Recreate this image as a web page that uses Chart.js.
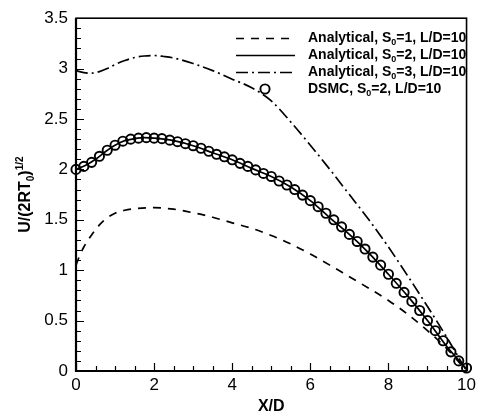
<!DOCTYPE html>
<html>
<head>
<meta charset="utf-8">
<script src="https://cdn.jsdelivr.net/npm/chart.js@4.4.1/dist/chart.umd.min.js"></script>
<style>
  html, body { margin: 0; padding: 0; background: #fff; }
  #wrap { width: 480px; height: 420px; }
</style>
</head>
<body>
<div id="wrap"><canvas id="plot" width="480" height="420"></canvas></div>
<script>
const FONT = '"Liberation Sans", Arial, Helvetica, sans-serif';

// Analytical profiles, S0 = 1, 2, 3 (L/D = 10)
const xS1 = [0, 0.1, 0.2, 0.4, 0.6, 0.8, 1, 1.25, 1.5, 2, 2.5, 3, 3.5, 4, 4.5, 5, 5.5, 6, 6.5, 7, 7.5, 8, 8.5, 9, 9.5, 10];
const uS1 = [1.05, 1.15, 1.23, 1.35, 1.45, 1.52, 1.565, 1.595, 1.61, 1.62, 1.605, 1.57, 1.525, 1.47, 1.415, 1.345, 1.26, 1.16, 1.05, 0.935, 0.82, 0.70, 0.56, 0.40, 0.22, 0.0];

const xS2 = [0, 0.25, 0.5, 0.75, 1, 1.25, 1.5, 1.75, 2, 2.5, 3, 3.5, 4, 4.5, 5, 5.5, 6, 6.5, 7, 7.5, 8, 8.5, 9, 9.5, 10];
const uS2 = [2.0, 2.04, 2.1, 2.175, 2.24, 2.285, 2.305, 2.315, 2.31, 2.285, 2.235, 2.165, 2.095, 2.01, 1.93, 1.825, 1.69, 1.52, 1.355, 1.17, 0.96, 0.74, 0.50, 0.24, 0.02];

const xS3 = [0, 0.2, 0.4, 0.6, 0.8, 1, 1.25, 1.5, 1.75, 2, 2.25, 2.5, 3, 3.5, 4, 4.5, 5, 5.5, 6, 6.5, 7, 7.5, 8, 8.5, 9, 9.5, 10];
const uS3 = [2.98, 2.96, 2.955, 2.97, 3.0, 3.04, 3.08, 3.11, 3.125, 3.13, 3.12, 3.105, 3.05, 2.98, 2.895, 2.81, 2.68, 2.47, 2.24, 2.0, 1.75, 1.5, 1.23, 0.94, 0.64, 0.33, 0.0];

// DSMC, S0 = 2
const xDsmc = [0, 0.2, 0.4, 0.6, 0.8, 1, 1.2, 1.4, 1.6, 1.8, 2, 2.2, 2.4, 2.6, 2.8, 3, 3.2, 3.4, 3.6, 3.8, 4, 4.2, 4.4, 4.6, 4.8, 5, 5.2, 5.4, 5.6, 5.8, 6, 6.2, 6.4, 6.6, 6.8, 7, 7.2, 7.4, 7.6, 7.8, 8, 8.2, 8.4, 8.6, 8.8, 9, 9.2, 9.4, 9.6, 9.8, 10];
const uDsmc = [2.0, 2.03, 2.07, 2.13, 2.19, 2.24, 2.28, 2.3, 2.31, 2.315, 2.31, 2.305, 2.29, 2.275, 2.255, 2.235, 2.21, 2.18, 2.15, 2.125, 2.095, 2.06, 2.03, 1.995, 1.96, 1.93, 1.885, 1.845, 1.8, 1.745, 1.69, 1.63, 1.565, 1.5, 1.43, 1.355, 1.285, 1.21, 1.13, 1.05, 0.96, 0.87, 0.78, 0.69, 0.6, 0.5, 0.4, 0.3, 0.19, 0.1, 0.03];

const xTickVals = [0, 2, 4, 6, 8, 10];
const xTickLabels = ['0', '2', '4', '6', '8', '10'];
const yTickVals = [0, 0.5, 1, 1.5, 2, 2.5, 3, 3.5];
const yTickLabels = ['0', '0.5', '1', '1.5', '2', '2.5', '3', '3.5'];

// legend rows: text before subscript, subscript, text after
const legendText = [
  ['Analytical, S', '0', '=1, L/D=10'],
  ['Analytical, S', '0', '=2, L/D=10'],
  ['Analytical, S', '0', '=3, L/D=10'],
  ['DSMC, S', '0', '=2, L/D=10']
];

const DASH = [8, 7];
const DASHDOT = [12, 4, 2, 4];
const LINE_W = 1.7;

const pts = (xs, ys) => xs.map((x, i) => ({ x: x, y: ys[i] }));

// draws a run of text pieces, some of them sub/superscript
function drawRich(ctx, parts, x, y, size, measureOnly) {
  let cx = x;
  parts.forEach(p => {
    const small = p.sub || p.sup;
    const s = small ? Math.round(size * 0.62) : size;
    ctx.font = 'bold ' + s + 'px ' + FONT;
    const dy = p.sub ? size * 0.3 : p.sup ? -size * 0.38 : 0;
    if (!measureOnly) ctx.fillText(p.t, cx, y + dy);
    cx += ctx.measureText(p.t).width;
  });
  return cx - x;
}

const frameTicks = {
  id: 'frameTicks',
  beforeDatasetsDraw(chart) {
    const { ctx, chartArea: a, scales: { x, y } } = chart;
    ctx.save();
    ctx.strokeStyle = '#000';
    ctx.lineWidth = 1.6;
    ctx.strokeRect(a.left, a.top, a.right - a.left, a.bottom - a.top);
    ctx.lineWidth = 2.2;
    ctx.beginPath();
    ctx.moveTo(a.left, a.top);
    ctx.lineTo(a.left, a.bottom);
    ctx.lineTo(a.right, a.bottom);
    ctx.stroke();

    ctx.lineWidth = 1.2;
    ctx.beginPath();
    for (let v = 0; v <= 10.001; v += 0.5) {
      const px = Math.round(x.getPixelForValue(v)) + 0.5;
      const len = Math.abs(v % 2) < 1e-6 ? 8 : 5;
      ctx.moveTo(px, a.bottom);
      ctx.lineTo(px, a.bottom - len);
    }
    for (let i = 0; i <= 35; i++) {
      const v = i / 10;
      const py = Math.round(y.getPixelForValue(v)) + 0.5;
      const len = i % 5 === 0 ? 8 : 5;
      ctx.moveTo(a.left, py);
      ctx.lineTo(a.left + len, py);
    }
    ctx.stroke();
    ctx.restore();
  },
  afterDraw(chart) {
    const ctx = chart.ctx;
    const a = chart.chartArea;
    ctx.save();
    ctx.fillStyle = '#000';
    ctx.strokeStyle = '#000';
    ctx.textBaseline = 'middle';

    // y axis title, rotated
    const yTitle = [{ t: 'U/(2RT' }, { t: '0', sub: true }, { t: ')' }, { t: '1/2', sup: true }];
    ctx.translate(26, (a.top + a.bottom) / 2);
    ctx.rotate(-Math.PI / 2);
    const w = drawRich(ctx, yTitle, 0, 0, 16, true);
    drawRich(ctx, yTitle, -w / 2, 0, 16);
    ctx.setTransform(1, 0, 0, 1, 0, 0);

    // legend
    const rowY = [38, 55, 72, 89];
    const styles = [DASH, [], DASHDOT, null];
    rowY.forEach((ry, i) => {
      if (styles[i]) {
        ctx.lineWidth = LINE_W;
        ctx.setLineDash(styles[i]);
        ctx.beginPath();
        ctx.moveTo(236, ry + 0.5);
        ctx.lineTo(295, ry + 0.5);
        ctx.stroke();
        ctx.setLineDash([]);
      } else {
        ctx.lineWidth = 1.9;
        ctx.beginPath();
        ctx.arc(265, ry, 4.6, 0, Math.PI * 2);
        ctx.stroke();
      }
      const t = legendText[i];
      drawRich(ctx, [{ t: t[0] }, { t: t[1], sub: true }, { t: t[2] }], 308, ry, 14);
    });
    ctx.restore();
  }
};

const tickFont = { family: FONT, size: 17 };

new Chart(document.getElementById('plot'), {
  type: 'scatter',
  data: {
    datasets: [
      {
        label: 'Analytical, S0=1, L/D=10',
        data: pts(xS1, uS1),
        showLine: true, pointRadius: 0, borderColor: '#000', borderWidth: LINE_W,
        borderDash: DASH, cubicInterpolationMode: 'monotone'
      },
      {
        label: 'Analytical, S0=2, L/D=10',
        data: pts(xS2, uS2),
        showLine: true, pointRadius: 0, borderColor: '#000', borderWidth: LINE_W,
        cubicInterpolationMode: 'monotone'
      },
      {
        label: 'Analytical, S0=3, L/D=10',
        data: pts(xS3, uS3),
        showLine: true, pointRadius: 0, borderColor: '#000', borderWidth: LINE_W,
        borderDash: DASHDOT, cubicInterpolationMode: 'monotone'
      },
      {
        label: 'DSMC, S0=2, L/D=10',
        data: pts(xDsmc, uDsmc),
        showLine: false, pointRadius: 4.6, pointBorderWidth: 1.9,
        pointBorderColor: '#000', pointBackgroundColor: 'rgba(0,0,0,0)',
        clip: false
      }
    ]
  },
  options: {
    responsive: false,
    animation: false,
    devicePixelRatio: 1,
    layout: { padding: { top: 12, right: 12, left: 0, bottom: 0 } },
    plugins: { legend: { display: false }, tooltip: { enabled: false } },
    scales: {
      x: {
        type: 'linear', min: 0, max: 10,
        grid: { display: false, drawTicks: false },
        border: { display: false },
        afterBuildTicks: s => { s.ticks = xTickVals.map(v => ({ value: v })); },
        ticks: {
          color: '#000', font: tickFont, padding: 4, maxRotation: 0,
          callback: (v) => xTickLabels[xTickVals.indexOf(v)]
        },
        title: {
          display: true, text: 'X/D', color: '#000',
          font: { family: FONT, size: 16, weight: 'bold' },
          padding: { top: 0, bottom: 4 }
        },
        afterFit: s => { s.height = 49; }
      },
      y: {
        type: 'linear', min: 0, max: 3.5,
        grid: { display: false, drawTicks: false },
        border: { display: false },
        afterBuildTicks: s => { s.ticks = yTickVals.map(v => ({ value: v })); },
        ticks: {
          color: '#000', font: tickFont, padding: 8,
          callback: (v) => yTickLabels[yTickVals.indexOf(v)]
        },
        afterFit: s => { s.width = 76; }
      }
    }
  },
  plugins: [frameTicks]
});
</script>
</body>
</html>
